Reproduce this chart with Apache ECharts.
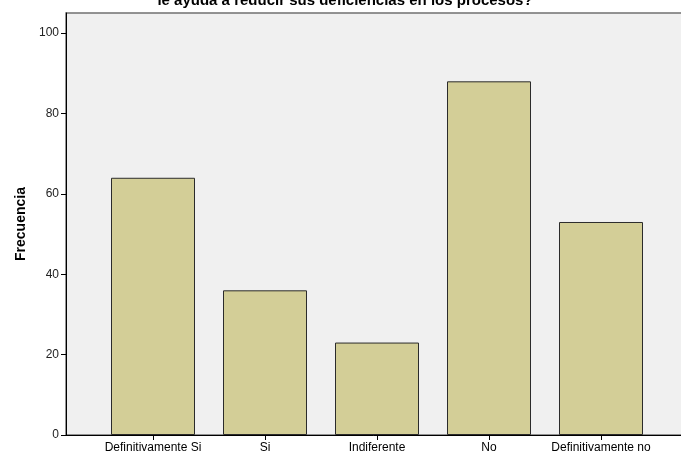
<!DOCTYPE html>
<html>
<head>
<meta charset="utf-8">
<script src="https://cdn.jsdelivr.net/npm/echarts@6/dist/echarts.min.js"></script>
<style>
html,body{margin:0;padding:0;background:#fff;}
#c{width:681px;height:456px;}
</style>
</head>
<body>
<div id="c"></div>
<script>
var categories = ['Definitivamente Si', 'Si', 'Indiferente', 'No', 'Definitivamente no'];
var frecuencia = [64, 36, 23, 88, 53];
var yTicks = [0, 20, 40, 60, 80, 100];
var titleText = 'le ayuda a reducir sus deficiencias en los procesos?';
var yName = 'Frecuencia';

var chart = echarts.init(document.getElementById('c'), null, {renderer: 'canvas'});
var font = 'Liberation Sans, Arial, sans-serif';
chart.setOption({
  animation: false,
  backgroundColor: '#ffffff',
  title: {
    text: titleText,
    left: 340, top: -12,
    textAlign: 'center',
    textStyle: {fontFamily: font, fontSize: 15, fontWeight: 'bold', color: '#000'}
  },
  grid: [
    {left: 66, top: 13, width: 660, height: 422, show: true, backgroundColor: '#f0f0f0', borderColor: '#707070', borderWidth: 1.5, outerBoundsMode: 'none'},
    {left: 97, top: 13, width: 560, height: 422, outerBoundsMode: 'none'}
  ],
  xAxis: [
    {gridIndex: 0, type: 'value', min: 0, max: 1,
     axisLine: {show: true, lineStyle: {color: '#000', width: 1}},
     axisTick: {show: false}, axisLabel: {show: false}, splitLine: {show: false}},
    {gridIndex: 1, type: 'category', data: categories,
     axisLine: {show: false},
     axisTick: {show: true, alignWithLabel: true, length: 5, lineStyle: {color: '#000'}},
     axisLabel: {interval: 0, fontFamily: font, fontSize: 12, color: '#000', margin: 7},
     splitLine: {show: false}}
  ],
  yAxis: [
    {gridIndex: 0, type: 'value', min: 0, max: 105,
     name: yName, nameLocation: 'middle', nameGap: 38, nameRotate: 90,
     nameTextStyle: {fontFamily: font, fontSize: 14, fontWeight: 'bold', color: '#000'},
     axisLine: {show: true, lineStyle: {color: '#000', width: 1}},
     axisTick: {show: true, length: 5, customValues: yTicks, lineStyle: {color: '#000'}},
     axisLabel: {customValues: yTicks, fontFamily: font, fontSize: 12, color: '#222', margin: 7},
     splitLine: {show: false}},
    {gridIndex: 1, type: 'value', min: 0, max: 105, show: false}
  ],
  series: [{
    type: 'bar',
    xAxisIndex: 1, yAxisIndex: 1,
    data: frecuencia,
    barWidth: 84,
    itemStyle: {color: '#d3ce97', borderColor: '#2b2b2b', borderWidth: 1}
  }]
});
</script>
</body>
</html>
